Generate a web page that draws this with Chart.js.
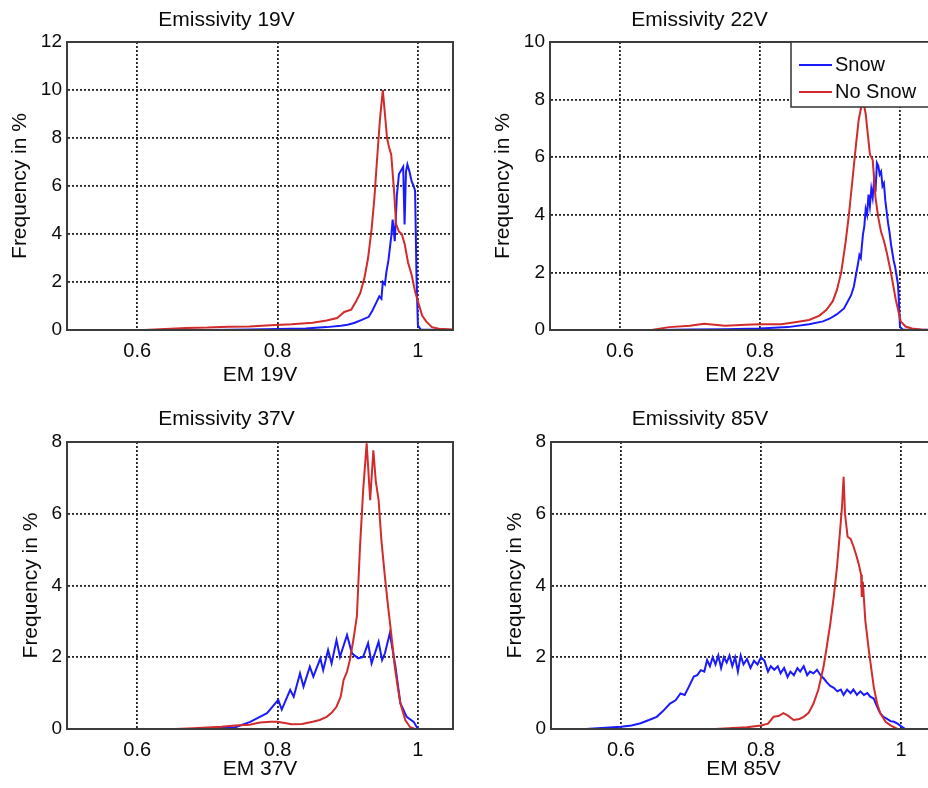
<!DOCTYPE html>
<html>
<head>
<meta charset="utf-8">
<script src="https://cdn.jsdelivr.net/npm/chart.js@4.4.1/dist/chart.umd.min.js"></script>
<style>
  html, body { margin: 0; padding: 0; background: #fff; overflow: hidden; }
  body { width: 928px; height: 788px; position: relative; }
  canvas { position: absolute; }
</style>
</head>
<body>
<canvas id="em19" width="464" height="394" style="left:0;top:0"></canvas>
<canvas id="em22" width="480" height="394" style="left:464px;top:0"></canvas>
<canvas id="em37" width="464" height="394" style="left:0;top:394px"></canvas>
<canvas id="em85" width="480" height="394" style="left:464px;top:394px"></canvas>
<script>
// tick labels shared by all four panels
const xTicks = [0.6, 0.8, 1];

// Emissivity 19V
const snow19X = [0.70, 0.76, 0.80, 0.84, 0.87, 0.89, 0.90, 0.91, 0.92, 0.93, 0.935, 0.94, 0.945, 0.948, 0.95, 0.953, 0.955, 0.958, 0.96, 0.962, 0.964, 0.967, 0.970, 0.973, 0.977, 0.979, 0.981, 0.983, 0.985, 0.988, 0.991, 0.994, 0.996, 0.998, 1.000, 1.004, 1.05];
const snow19Y = [0.0, 0.02, 0.04, 0.06, 0.12, 0.18, 0.22, 0.3, 0.42, 0.55, 0.8, 1.1, 1.4, 1.3, 2.0, 1.9, 2.4, 2.9, 3.4, 3.9, 4.6, 3.7, 5.6, 6.5, 6.7, 6.8, 4.4, 6.6, 6.9, 6.6, 6.2, 6.0, 5.8, 2.2, 0.2, 0.02, 0.0];
const noSnow19X = [0.61, 0.64, 0.67, 0.70, 0.73, 0.76, 0.79, 0.82, 0.85, 0.87, 0.885, 0.895, 0.905, 0.912, 0.918, 0.924, 0.929, 0.934, 0.938, 0.942, 0.946, 0.950, 0.953, 0.956, 0.959, 0.962, 0.966, 0.969, 0.973, 0.977, 0.981, 0.986, 0.991, 0.996, 1.001, 1.006, 1.012, 1.02, 1.03, 1.05];
const noSnow19Y = [0.0, 0.04, 0.08, 0.1, 0.14, 0.15, 0.2, 0.24, 0.3, 0.4, 0.5, 0.75, 0.85, 1.2, 1.55, 2.2, 3.0, 4.2, 5.5, 7.2, 8.8, 10.0, 9.0, 8.0, 7.6, 7.3, 5.8, 4.4, 4.1, 4.0, 3.6, 2.8, 2.3, 1.6, 1.1, 0.6, 0.35, 0.12, 0.05, 0.02];

// Emissivity 22V
const snow22X = [0.65, 0.70, 0.75, 0.80, 0.84, 0.87, 0.89, 0.90, 0.91, 0.92, 0.93, 0.934, 0.937, 0.940, 0.942, 0.944, 0.947, 0.949, 0.951, 0.953, 0.955, 0.957, 0.959, 0.961, 0.963, 0.965, 0.967, 0.969, 0.971, 0.973, 0.975, 0.977, 0.979, 0.981, 0.983, 0.985, 0.987, 0.989, 0.991, 0.993, 0.995, 0.997, 0.998, 1.000, 1.004, 1.05];
const snow22Y = [0.0, 0.02, 0.03, 0.05, 0.1, 0.2, 0.3, 0.4, 0.55, 0.75, 1.2, 1.5, 1.9, 2.3, 2.6, 2.5, 3.3, 3.6, 4.2, 4.0, 4.7, 4.3, 4.9, 4.6, 5.2, 4.8, 5.8, 5.7, 5.4, 5.5, 5.0, 5.1, 4.5, 4.1, 3.7, 3.4, 3.0, 2.7, 2.4, 2.2, 1.9, 1.6, 1.2, 0.1, 0.02, 0.0];
const noSnow22X = [0.645, 0.67, 0.70, 0.72, 0.75, 0.78, 0.80, 0.83, 0.85, 0.87, 0.885, 0.895, 0.904, 0.910, 0.916, 0.922, 0.927, 0.932, 0.937, 0.941, 0.945, 0.948, 0.951, 0.954, 0.957, 0.961, 0.965, 0.969, 0.973, 0.977, 0.981, 0.987, 0.994, 1.001, 1.008, 1.017, 1.03, 1.05];
const noSnow22Y = [0.0, 0.1, 0.15, 0.22, 0.15, 0.18, 0.2, 0.2, 0.27, 0.35, 0.5, 0.7, 1.0, 1.4, 2.0, 3.0, 4.0, 5.2, 6.4, 7.3, 7.8, 7.9, 7.5, 6.8, 6.1, 5.9, 4.6, 3.9, 3.4, 3.1, 2.7, 2.0, 1.05, 0.3, 0.12, 0.05, 0.02, 0.0];

// Emissivity 37V
const snow37X = [0.70, 0.74, 0.761, 0.785, 0.801, 0.806, 0.818, 0.823, 0.832, 0.837, 0.846, 0.851, 0.861, 0.865, 0.872, 0.877, 0.884, 0.889, 0.899, 0.906, 0.915, 0.922, 0.929, 0.934, 0.944, 0.949, 0.953, 0.960, 0.968, 0.975, 0.984, 0.994, 1.0, 1.01];
const snow37Y = [0.0, 0.05, 0.2, 0.44, 0.81, 0.54, 1.09, 0.9, 1.55, 1.18, 1.74, 1.46, 1.97, 1.64, 2.2, 1.83, 2.48, 2.01, 2.62, 2.11, 1.97, 2.01, 2.39, 1.83, 2.43, 1.92, 2.11, 2.67, 1.74, 0.72, 0.34, 0.2, 0.0, 0.0];
const noSnow37X = [0.655, 0.68, 0.70, 0.72, 0.74, 0.76, 0.775, 0.79, 0.80, 0.81, 0.82, 0.835, 0.85, 0.86, 0.87, 0.877, 0.884, 0.89, 0.894, 0.899, 0.903, 0.908, 0.913, 0.9175, 0.922, 0.927, 0.932, 0.9365, 0.940, 0.944, 0.948, 0.953, 0.957, 0.960, 0.964, 0.967, 0.971, 0.975, 0.982, 0.989, 0.995, 1.0];
const noSnow37Y = [0.0, 0.02, 0.04, 0.06, 0.1, 0.12, 0.18, 0.2, 0.2, 0.17, 0.13, 0.14, 0.2, 0.25, 0.34, 0.45, 0.62, 0.9, 1.36, 1.6, 1.92, 2.48, 3.13, 5.08, 6.66, 7.96, 6.38, 7.77, 6.9, 6.38, 5.26, 4.24, 3.5, 2.99, 2.3, 1.74, 1.2, 0.72, 0.25, 0.05, 0.01, 0.0];

// Emissivity 85V
const snow85X = [0.55, 0.60, 0.615, 0.628, 0.64, 0.651, 0.66, 0.670, 0.678, 0.685, 0.691, 0.697, 0.704, 0.709, 0.714, 0.719, 0.723, 0.727, 0.731, 0.735, 0.739, 0.743, 0.747, 0.751, 0.755, 0.759, 0.763, 0.767, 0.771, 0.775, 0.780, 0.785, 0.790, 0.795, 0.800, 0.805, 0.810, 0.814, 0.819, 0.824, 0.828, 0.833, 0.838, 0.842, 0.847, 0.852, 0.856, 0.861, 0.866, 0.870, 0.875, 0.880, 0.885, 0.890, 0.894, 0.899, 0.904, 0.909, 0.914, 0.918, 0.923, 0.928, 0.932, 0.937, 0.942, 0.947, 0.952, 0.956, 0.961, 0.966, 0.970, 0.975, 0.980, 0.985, 0.990, 0.995, 1.000, 1.006];
const snow85Y = [0.0, 0.06, 0.1, 0.16, 0.25, 0.34, 0.5, 0.71, 0.8, 0.99, 0.95, 1.18, 1.46, 1.5, 1.64, 1.6, 1.92, 1.75, 2.0, 1.8, 2.05, 1.7, 2.0, 1.85, 2.05, 1.75, 2.0, 1.6, 2.05, 1.8, 1.95, 1.7, 1.9, 1.8, 2.0, 1.9, 1.6, 1.75, 1.65, 1.75, 1.55, 1.7, 1.45, 1.6, 1.5, 1.7, 1.6, 1.75, 1.5, 1.6, 1.55, 1.65, 1.5, 1.4, 1.3, 1.2, 1.15, 1.05, 1.1, 0.95, 1.1, 1.0, 1.1, 0.95, 1.05, 0.95, 1.0, 0.9, 0.85, 0.62, 0.45, 0.34, 0.28, 0.22, 0.2, 0.15, 0.08, 0.0];
const noSnow85X = [0.735, 0.76, 0.78, 0.80, 0.81, 0.818, 0.825, 0.832, 0.838, 0.8466, 0.855, 0.861, 0.868, 0.875, 0.882, 0.8894, 0.894, 0.899, 0.904, 0.9086, 0.912, 0.9157, 0.918, 0.920, 0.9237, 0.928, 0.9323, 0.936, 0.9394, 0.943, 0.944, 0.9455, 0.949, 0.954, 0.961, 0.966, 0.9704, 0.978, 0.985, 0.995];
const noSnow85Y = [0.0, 0.03, 0.05, 0.1, 0.15, 0.34, 0.36, 0.44, 0.38, 0.25, 0.28, 0.34, 0.45, 0.71, 1.1, 1.74, 2.3, 2.94, 3.7, 4.52, 5.3, 6.19, 7.03, 6.0, 5.36, 5.3, 5.08, 4.85, 4.61, 4.3, 3.68, 4.1, 3.03, 2.2, 1.18, 0.7, 0.44, 0.2, 0.1, 0.0];

const BLUE = '#1a1aff';
const RED = '#d22b2b';
const INK = '#0a0a0a';
const FONT = "'Liberation Sans', Arial, sans-serif";

function toPoints(xs, ys) {
    return xs.map((x, i) => ({ x: x, y: ys[i] }));
}

// closes the MATLAB style box round the plot area
const framePlugin = {
    id: 'frame',
    afterDatasetsDraw(chart) {
        const { ctx, chartArea: a } = chart;
        ctx.save();
        ctx.strokeStyle = '#3c3c3c';
        ctx.lineWidth = 2;
        ctx.strokeRect(a.left, a.top, a.right - a.left, a.bottom - a.top);
        ctx.restore();
    }
};

// boxed legend in the upper right corner, like the MATLAB one
const boxLegend = {
    id: 'boxLegend',
    afterDraw(chart, args, opts) {
        if (!opts.show) return;
        const { ctx, chartArea: a } = chart;
        const left = a.right - 144, top = a.top, h = 65;
        ctx.save();
        ctx.fillStyle = '#fff';
        ctx.fillRect(left, top, a.right - left, h);
        ctx.strokeStyle = '#333';
        ctx.lineWidth = 1.5;
        ctx.strokeRect(left, top, a.right - left, h);
        ctx.font = '20px ' + FONT;
        ctx.textBaseline = 'middle';
        ctx.fillStyle = INK;
        chart.data.datasets.forEach((ds, i) => {
            const y = top + 23 + i * 27;
            ctx.strokeStyle = ds.borderColor;
            ctx.lineWidth = 2;
            ctx.beginPath();
            ctx.moveTo(left + 8, y);
            ctx.lineTo(left + 41, y);
            ctx.stroke();
            ctx.fillText(ds.label, left + 44, y);
        });
        ctx.restore();
    }
};

function drawPanel(id, p) {
    new Chart(document.getElementById(id), {
        type: 'line',
        data: {
            datasets: [
                { label: 'Snow', data: toPoints(p.snowX, p.snowY), borderColor: BLUE, order: 1 },
                { label: 'No Snow', data: toPoints(p.noX, p.noY), borderColor: RED, order: 0 }
            ]
        },
        options: {
            responsive: false,
            animation: false,
            layout: { padding: { left: 0, right: p.padRight, top: 0, bottom: 0 } },
            elements: {
                point: { radius: 0 },
                line: { borderWidth: 2, tension: 0 }
            },
            plugins: {
                legend: { display: false },
                tooltip: { enabled: false },
                title: {
                    display: true,
                    text: p.title,
                    color: INK,
                    font: { family: FONT, size: 21, weight: 'normal' },
                    padding: { top: p.titleTop, bottom: p.titleBottom }
                },
                boxLegend: { show: p.legend }
            },
            scales: {
                x: {
                    type: 'linear',
                    min: 0.5,
                    max: 1.05,
                    afterBuildTicks: s => { s.ticks = xTicks.map(v => ({ value: v })); },
                    afterFit: s => { s.height = p.xAxisHeight; },
                    ticks: { color: INK, font: { family: FONT, size: 20 }, padding: 9, maxRotation: 0, callback: v => String(v) },
                    grid: { color: '#222', lineWidth: 1.8, drawTicks: false },
                    border: { color: '#3c3c3c', width: 2, dash: [2, 2] },
                    title: { display: true, text: p.xTitle, color: INK, font: { family: FONT, size: 21 }, padding: { top: 0, bottom: 6.4 } }
                },
                y: {
                    min: 0,
                    max: p.yMax,
                    afterFit: s => { s.width = p.yAxisWidth; },
                    ticks: { stepSize: 2, color: INK, font: { family: FONT, size: 19 }, padding: 5 },
                    grid: { color: '#222', lineWidth: 1.8, drawTicks: false },
                    border: { color: '#3c3c3c', width: 2, dash: [2, 2] },
                    title: { display: true, text: 'Frequency in %', color: INK, font: { family: FONT, size: 21 }, padding: { top: p.yTitlePad, bottom: 0 } }
                }
            }
        },
        plugins: [framePlugin, boxLegend]
    });
}

drawPanel('em19', {
    title: 'Emissivity 19V', xTitle: 'EM 19V', yMax: 12,
    snowX: snow19X, snowY: snow19Y, noX: noSnow19X, noY: noSnow19Y,
    padRight: 11, yAxisWidth: 67, xAxisHeight: 64, titleTop: 7.4, titleBottom: 9.4, yTitlePad: 7.4, legend: false
});
drawPanel('em22', {
    title: 'Emissivity 22V', xTitle: 'EM 22V', yMax: 10,
    snowX: snow22X, snowY: snow22Y, noX: noSnow22X, noY: noSnow22Y,
    padRight: 9, yAxisWidth: 86, xAxisHeight: 64, titleTop: 7.4, titleBottom: 9.4, yTitlePad: 26.4, legend: true
});
drawPanel('em37', {
    title: 'Emissivity 37V', xTitle: 'EM 37V', yMax: 8,
    snowX: snow37X, snowY: snow37Y, noX: noSnow37X, noY: noSnow37Y,
    padRight: 11, yAxisWidth: 67, xAxisHeight: 59, titleTop: 12.4, titleBottom: 10.4, yTitlePad: 18.4, legend: false
});
drawPanel('em85', {
    title: 'Emissivity 85V', xTitle: 'EM 85V', yMax: 8,
    snowX: snow85X, snowY: snow85Y, noX: noSnow85X, noY: noSnow85Y,
    padRight: 8, yAxisWidth: 87, xAxisHeight: 59, titleTop: 12.4, titleBottom: 10.4, yTitlePad: 38.9, legend: false
});
</script>
</body>
</html>
